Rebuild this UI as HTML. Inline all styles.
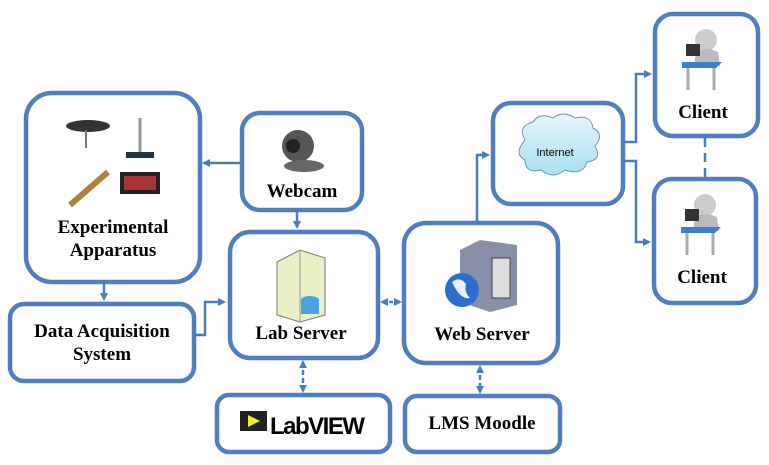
<!DOCTYPE html>
<html><head><meta charset="utf-8"><style>
body{margin:0;background:#fff}
svg{display:block}
text{font-family:"Liberation Serif",serif;font-weight:bold;fill:#000}
</style></head><body>
<svg width="769" height="465" viewBox="0 0 769 465" xmlns="http://www.w3.org/2000/svg">
<defs>
<marker id="a" markerWidth="8" markerHeight="8" refX="6" refY="4" orient="auto" markerUnits="userSpaceOnUse"><path d="M0,0 L8,4 L0,8 z" fill="#4a7ebb"/></marker>
<marker id="b" markerWidth="8" markerHeight="8" refX="2" refY="4" orient="auto" markerUnits="userSpaceOnUse"><path d="M8,0 L0,4 L8,8 z" fill="#4a7ebb"/></marker>
<linearGradient id="cl" x1="0" y1="0" x2="0" y2="1"><stop offset="0" stop-color="#e6f7fc"/><stop offset="1" stop-color="#a9dff0"/></linearGradient>
</defs>
<g fill="none" stroke="#4f7fbf" stroke-width="4.5">
<rect x="26" y="93" width="174" height="189" rx="26"/>
<rect x="242" y="113" width="120" height="97" rx="18"/>
<rect x="230" y="232" width="148" height="126" rx="20"/>
<rect x="10" y="304" width="184" height="77" rx="14"/>
<rect x="217" y="395" width="173" height="57" rx="12"/>
<rect x="404" y="223" width="154" height="140" rx="22"/>
<rect x="405" y="396" width="155" height="56" rx="12"/>
<rect x="493" y="103" width="130" height="101" rx="18"/>
<rect x="655" y="14" width="103" height="122" rx="18"/>
<rect x="654" y="179" width="102" height="124" rx="18"/>
</g>
<g fill="none" stroke="#4a7ebb" stroke-width="2.5">
<line x1="242" y1="163" x2="204" y2="163" marker-end="url(#a)"/>
<line x1="297" y1="210" x2="297" y2="227" marker-end="url(#a)"/>
<line x1="104" y1="282" x2="104" y2="299" marker-end="url(#a)"/>
<polyline points="194,335 205,335 205,302 224,302" marker-end="url(#a)"/>
<line x1="382" y1="302" x2="400" y2="302" stroke-dasharray="4,3" marker-start="url(#b)" marker-end="url(#a)"/>
<line x1="303" y1="362" x2="303" y2="391" stroke-dasharray="5,3" marker-start="url(#b)" marker-end="url(#a)"/>
<line x1="480" y1="367" x2="480" y2="392" stroke-dasharray="5,3" marker-start="url(#b)" marker-end="url(#a)"/>
<polyline points="477,223 477,155 488,155" marker-end="url(#a)"/>
<polyline points="623,142 636,142 636,74 650,74" marker-end="url(#a)"/>
<polyline points="623,161 636,161 636,242 649,242" marker-end="url(#a)"/>
<line x1="705" y1="138" x2="705" y2="178" stroke-dasharray="9,6"/>
</g>
<g>
<ellipse cx="88" cy="126" rx="22" ry="6" fill="#333"/><line x1="86" y1="130" x2="86" y2="148" stroke="#777" stroke-width="2"/>
<line x1="140" y1="118" x2="140" y2="152" stroke="#999" stroke-width="3"/><rect x="126" y="152" width="28" height="6" fill="#234"/>
<line x1="70" y1="205" x2="108" y2="172" stroke="#b08040" stroke-width="6"/>
<rect x="120" y="172" width="40" height="22" fill="#222"/><rect x="124" y="176" width="32" height="14" fill="#a33"/>
</g>
<text x="113" y="233" font-size="19" text-anchor="middle">Experimental</text>
<text x="113" y="256" font-size="19" text-anchor="middle">Apparatus</text>
<circle cx="298" cy="146" r="16" fill="#555"/><circle cx="293" cy="146" r="7" fill="#222"/><ellipse cx="304" cy="166" rx="20" ry="6" fill="#666"/>
<text x="302" y="197" font-size="19" text-anchor="middle">Webcam</text>
<path d="M277,262 L300,250 L325,258 L325,315 L300,322 L277,315 z" fill="#e8f0c8" stroke="#777"/><path d="M300,250 L300,322" stroke="#999"/>
<ellipse cx="310" cy="300" rx="9" ry="4" fill="#4aa3e0"/><rect x="301" y="300" width="18" height="14" fill="#4aa3e0"/>
<text x="301" y="339" font-size="19" text-anchor="middle">Lab Server</text>
<text x="102" y="337" font-size="19" text-anchor="middle">Data Acquisition</text>
<text x="102" y="360" font-size="19" text-anchor="middle">System</text>
<rect x="240" y="411" width="27" height="20" fill="#222"/><path d="M248,415 L260,421 L248,427z" fill="#ee2"/>
<text x="270" y="434" font-size="24" style="font-family:'Liberation Sans',sans-serif;letter-spacing:-1.5px">LabVIEW</text>
<path d="M460,250 L480,240 L517,245 L517,305 L490,312 L460,302 z" fill="#8a8fa8"/><rect x="492" y="258" width="18" height="40" fill="#ddd" stroke="#444"/>
<circle cx="462" cy="290" r="17" fill="#2a6fd0"/><path d="M452,282 q8,-6 14,2 q-2,8 4,14 q-10,2 -18,-16z" fill="#e8f0ff"/>
<text x="482" y="340" font-size="19" text-anchor="middle">Web Server</text>
<text x="482" y="429" font-size="19" text-anchor="middle">LMS Moodle</text>
<path d="M525,140 q-8,-14 8,-18 q6,-10 20,-4 q10,-8 22,0 q16,-4 18,10 q12,6 2,18 q8,14 -8,16 q-4,14 -22,8 q-12,10 -24,0 q-16,4 -16,-10 q-12,-6 0,-20z" fill="url(#cl)" stroke="#6a9ab0"/>
<text x="555" y="156" font-size="11" text-anchor="middle" style="font-family:'Liberation Sans',sans-serif;font-weight:normal">Internet</text>
<g id="c"><circle cx="706" cy="40" r="11" fill="#ccc"/><path d="M696,52 q10,-6 22,0 l2,14 h-26z" fill="#bbb"/><rect x="686" y="44" width="14" height="12" fill="#333"/><path d="M682,62 h40 l-6,6 h-34z" fill="#3d7fd0"/><path d="M688,68 v22 M714,68 v22" stroke="#aaa" stroke-width="3"/></g>
<text x="703" y="118" font-size="19" text-anchor="middle">Client</text>
<use href="#c" transform="translate(-1,165)"/>
<text x="702" y="283" font-size="19" text-anchor="middle">Client</text>
</svg>
</body></html>
